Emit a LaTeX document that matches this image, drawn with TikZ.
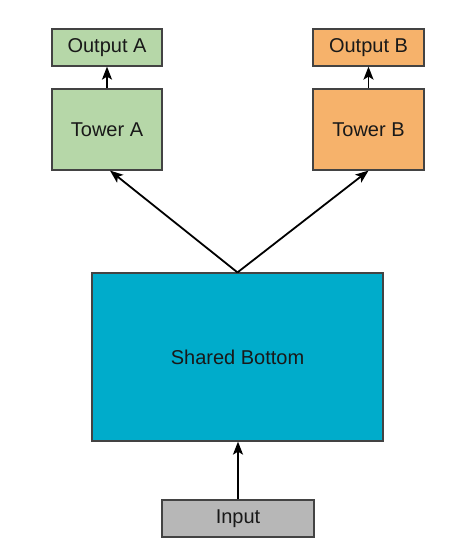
\documentclass[tikz,border=0pt]{standalone}
\usepackage{fontspec}
\setmainfont{Liberation Sans}
\usetikzlibrary{arrows.meta}
\tikzset {>=Stealth}
\definecolor{greenA}{HTML}{B6D7A8}
\definecolor{orangeB}{HTML}{F6B26B}
\definecolor{sharedC}{HTML}{00ACCB}
\definecolor{inputG}{HTML}{B7B7B7}
\definecolor{edgeC}{HTML}{434343}
\tikzset{box/.style={draw=edgeC,line width=1.2pt,inner sep=0pt,text=black!90,font=\fontsize{20}{23}\selectfont},
  arr/.style={line width=1.8pt,-{Stealth[length=13pt,width=10pt,inset=3pt]}}}

\begin{document}
\begin{tikzpicture}[x=1pt,y=-1pt]
\useasboundingbox (0,0) rectangle (471,555);
\node[box,fill=greenA,minimum width=110pt,minimum height=37pt] (outA) at (107,47.5) {Output A};
\node[box,fill=greenA,minimum width=110pt,minimum height=81pt] (towA) at (107,129.5) {Tower A};
\node[box,fill=orangeB,minimum width=111pt,minimum height=37pt] (outB) at (368.5,47.5) {Output B};
\node[box,fill=orangeB,minimum width=111pt,minimum height=81pt] (towB) at (368.5,129.5) {Tower B};
\node[box,fill=sharedC,minimum width=291pt,minimum height=168pt] (shared) at (237.5,357) {Shared Bottom};
\node[box,fill=inputG,minimum width=152pt,minimum height=37pt] (input) at (238,518.5) {Input};
\draw[arr] (towA) -- (outA);
\draw[arr] (towB) -- (outB);
\draw[arr] (shared.north) -- ([xshift=3pt]towA.south);
\draw[arr] (shared.north) -- (towB.south);
\draw[arr] (input.north) -- (input.north |- shared.south);
\end{tikzpicture}
\end{document}
